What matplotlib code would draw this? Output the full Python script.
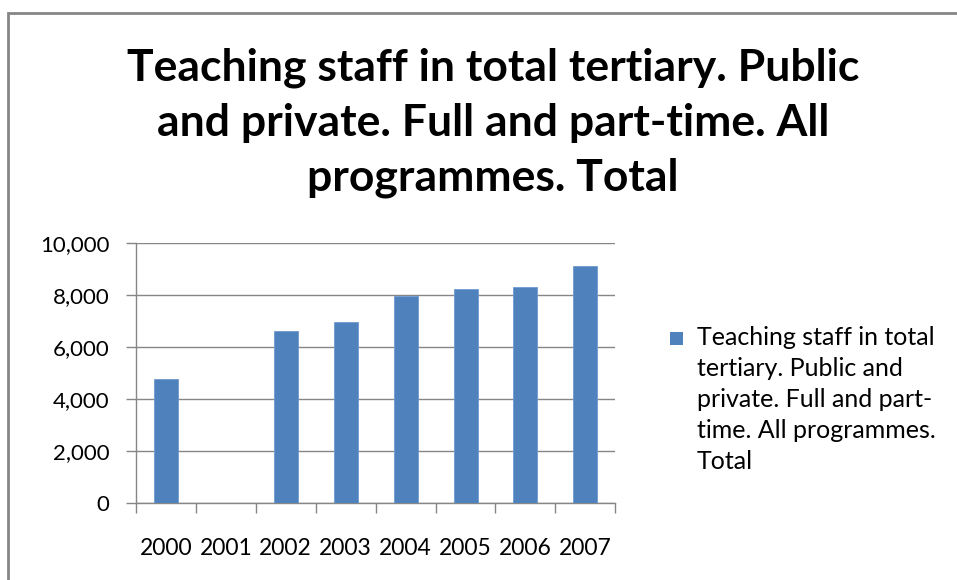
import matplotlib
matplotlib.use("Agg")
import matplotlib.pyplot as plt
from matplotlib.patches import Rectangle
from matplotlib.ticker import FuncFormatter, MultipleLocator

plt.rcParams['font.family'] = ['Lato', 'DejaVu Sans']

years = ['2000', '2001', '2002', '2003', '2004', '2005', '2006', '2007']
staff = [4795, None, 6615, 6960, 7990, 8240, 8330, 9140]
series_name = ('Teaching staff in total\ntertiary. Public and\nprivate. Full and part-\n'
               'time. All programmes.\nTotal')
title = ('Teaching staff in total tertiary. Public\nand private. Full and part-time. All\n'
         'programmes. Total')

blue = '#4f81bd'
grey = '#868686'

fig = plt.figure(figsize=(9.57, 5.80), dpi=100)
ax = fig.add_axes([0.142, 0.132, 0.501, 0.4485])

xs = [i for i, v in enumerate(staff) if v is not None]
hs = [v for v in staff if v is not None]
ax.bar(xs, hs, width=0.4, color=blue, edgecolor='#6f9bd1', linewidth=0.6, zorder=3)

ax.set_xlim(-0.5, len(years) - 0.5)
ax.set_ylim(0, 10000)
ax.yaxis.set_major_locator(MultipleLocator(2000))
ax.yaxis.set_major_formatter(FuncFormatter(lambda v, p: f'{int(v):,}'))
ax.set_xticks([i - 0.5 for i in range(len(years) + 1)])
ax.set_xticklabels([])
ax.set_xticks(range(len(years)), minor=True)
ax.set_xticklabels(years, minor=True)
ax.tick_params(axis='x', which='major', length=7, color=grey, width=1)
ax.tick_params(axis='x', which='minor', length=0, pad=25, labelsize=16.5)
ax.tick_params(axis='y', length=7, color=grey, width=1, labelsize=16, pad=12)
ax.grid(axis='y', color=grey, linewidth=1, zorder=0)
for s in ['top', 'right']:
    ax.spines[s].set_visible(False)
for s in ['left', 'bottom']:
    ax.spines[s].set_color(grey)
    ax.spines[s].set_linewidth(1)

fig.text(0.515, 0.788, title, ha='center', va='center', fontsize=32,
         fontweight='bold', linespacing=1.45)

# legend drawn by hand so the marker sits on the first text line
fig.patches.append(Rectangle((670 / 957, 1 - 345 / 580), 13 / 957, 13 / 580,
                             transform=fig.transFigure, facecolor=blue, edgecolor='none'))
fig.text(697 / 957, 1 - 326 / 580, series_name, ha='left', va='top', fontsize=18,
         linespacing=1.42)

fig.patches.append(Rectangle((8 / 957, -0.1), 2, 1 - 13 / 580 + 0.1, transform=fig.transFigure,
                             fill=False, edgecolor=grey, linewidth=2))

fig.savefig('out.png', dpi=100)
